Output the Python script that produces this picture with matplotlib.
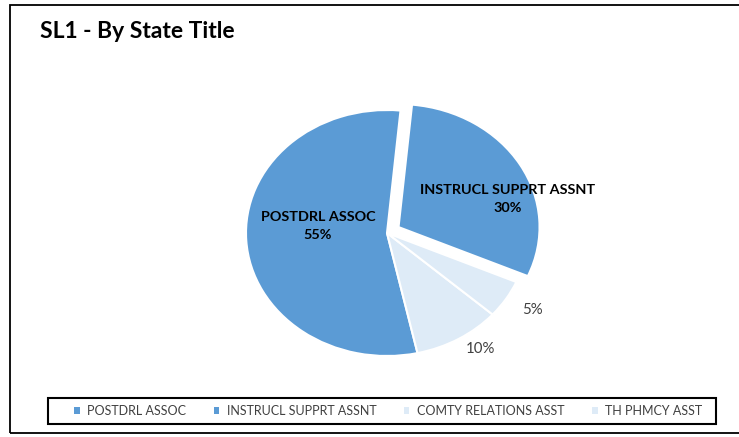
import matplotlib.pyplot as plt
from matplotlib.patches import Rectangle, Patch

# series, in legend order
titles = ['POSTDRL ASSOC', 'INSTRUCL SUPPRT ASSNT', 'COMTY RELATIONS ASST', 'TH PHMCY ASST']
shares = [55, 30, 10, 5]
colors = ['#5B9BD5', '#5B9BD5', '#DEEBF7', '#DEEBF7']
# slices are laid out counter-clockwise in this order
draw_order = [0, 2, 3, 1]

plt.rcParams['font.family'] = ['Lato', 'DejaVu Sans']

W, H = 739, 437
fig = plt.figure(figsize=(W / 100, H / 100), dpi=100)
fig.patch.set_facecolor('white')

# pie centre at (387, 233) px, radii 141 x 123 px
cx, cy, rx, ry = 387, 233, 141, 123
ax = fig.add_axes([0, 0, 1, 1])
vals = [shares[i] for i in draw_order]
cols = [colors[i] for i in draw_order]
expl = [0.095 if i == 1 else 0 for i in draw_order]
wedges, _ = ax.pie(vals, colors=cols, explode=expl, startangle=84.5,
                   counterclock=True,
                   wedgeprops=dict(edgecolor='white', linewidth=1.5))
ax.set_aspect('auto')
ax.set_xlim(-cx / rx, (W - cx) / rx)
ax.set_ylim((cy - H) / ry, cy / ry)
ax.axis('off')

def px(x, y):
    return (x - cx) / rx, (cy - y) / ry

# labels inside the blue slices
ax.text(*px(318, 226), f'{titles[0]}\n{shares[0]}%', ha='center', va='center',
        fontsize=10.4, fontweight='bold', color='black', linespacing=1.55)
ax.text(*px(508, 199), f'{titles[1]}\n{shares[1]}%', ha='center', va='center',
        fontsize=10.4, fontweight='bold', color='black', linespacing=1.55)
# outside labels for the small slices
ax.text(*px(480, 349), f'{shares[2]}%', ha='center', va='center',
        fontsize=10.8, color='#404040')
ax.text(*px(532, 310), f'{shares[3]}%', ha='center', va='center',
        fontsize=10.8, color='#404040')

fig.text(40 / W, 1 - 32 / H, 'SL1 - By State Title', ha='left', va='center',
         fontsize=16.5, fontweight='bold', color='black')

# chart frame
fig.patches.append(Rectangle((10 / W, 1 - 433 / H), 740 / W, 428 / H,
                             transform=fig.transFigure, fill=False,
                             edgecolor='black', linewidth=1.3))
# legend box
fig.patches.append(Rectangle((48 / W, 1 - 424 / H), 668 / W, 26 / H,
                             transform=fig.transFigure, fill=False,
                             edgecolor='black', linewidth=1.5))

handles = [Patch(facecolor=c, edgecolor='none') for c in colors]
leg = fig.legend(handles, titles, ncol=4, loc='center',
                 bbox_to_anchor=(388 / W, 1 - 411 / H),
                 fontsize=9, frameon=False,
                 handlelength=0.45, handleheight=0.45, handletextpad=0.6,
                 columnspacing=2.2, borderaxespad=0, borderpad=0)
for t in leg.get_texts():
    t.set_color('#404040')

fig.savefig('out.png', dpi=100)
